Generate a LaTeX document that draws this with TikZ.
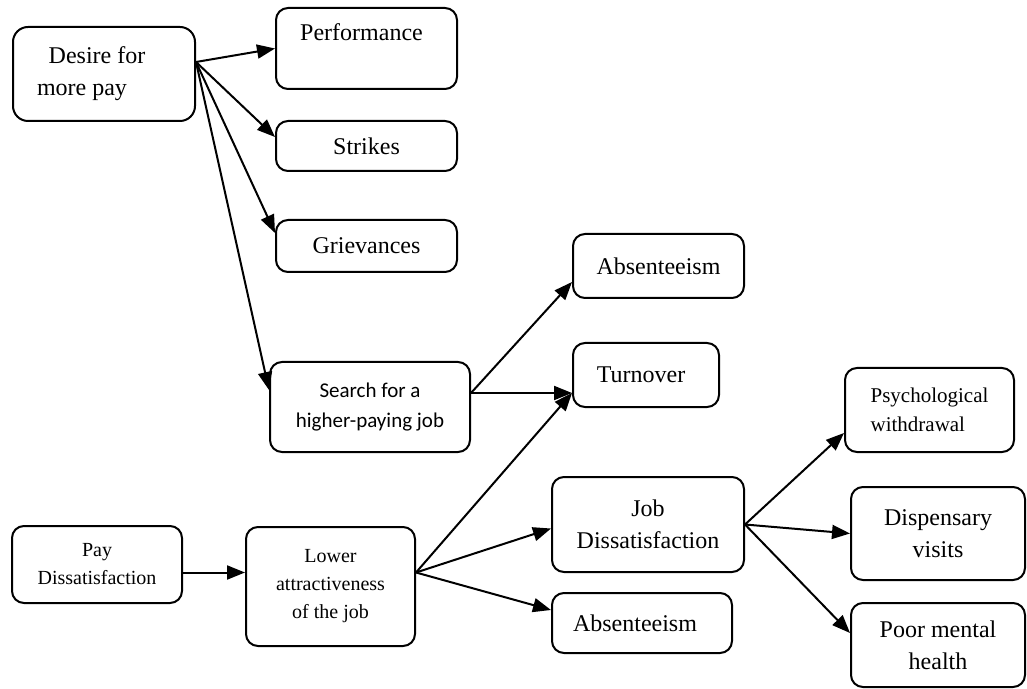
\documentclass[tikz,border=0pt]{standalone}
\usepackage{fontspec}
\setmainfont{Liberation Serif}
\newfontfamily\calibri{Carlito}
\usetikzlibrary{arrows.meta,positioning,calc}
\tikzset{box/.style={draw,line width=1pt,rounded corners=6pt,inner sep=0pt,align=center,font=\fontsize{12}{16}\selectfont},
  smallbox/.style={box,font=\fontsize{10}{14}\selectfont},
  flow/.style={-{Triangle[length=9pt,width=7pt]},line width=1pt}}

\begin{document}
\begin{tikzpicture}[x=0.5pt,y=-0.5pt]
\useasboundingbox (0,0) rectangle (1027,689);
% upper branch
\node[box,minimum width=91pt,minimum height=47pt,rounded corners=7.5pt] (desire) at (104,74) {Desire for\hspace*{7pt}\\more pay\hspace*{22pt}};
\node[box,minimum width=90.5pt,minimum height=40.5pt] (perf) at (366.5,48.5) {Performance\hspace*{5pt}\\~};
\node[box,minimum width=90.5pt,minimum height=25pt] (strikes) at (366.5,146) {Strikes};
\node[box,minimum width=90.5pt,minimum height=26pt] (griev) at (366.5,246) {Grievances};
\node[box,minimum width=100pt,minimum height=45pt,font=\calibri\fontsize{10.5}{15}\selectfont] (search) at (370,407) {Search for a\\higher-paying job};
\node[box,minimum width=85.5pt,minimum height=32pt] (absA) at (658.5,266) {Absenteeism};
\node[box,minimum width=73pt,minimum height=32pt] (turn) at (646,375) {Turnover\hspace*{5pt}};
% lower branch
\node[smallbox,minimum width=85pt,minimum height=38.5pt] (pay) at (97,564.5) {Pay\\Dissatisfaction};
\node[smallbox,minimum width=84.5pt,minimum height=59.5pt] (lower) at (330.5,586.5) {Lower\\attractiveness\\of the job};
\node[box,minimum width=96pt,minimum height=47.5pt] (job) at (648,524.5) {Job\\Dissatisfaction};
\node[box,minimum width=90pt,minimum height=30pt] (absB) at (642,623) {Absenteeism\hspace*{7pt}};
\node[box,minimum width=84.5pt,minimum height=42pt,align=left,font=\fontsize{10.5}{14.5}\selectfont] (psych) at (929.5,410) {Psychological\\withdrawal};
\node[box,minimum width=87pt,minimum height=46.5pt] (disp) at (938,533.5) {Dispensary\\visits};
\node[box,minimum width=87pt,minimum height=42pt] (poor) at (938,645) {Poor mental\\health};

\draw[flow] ([yshift=6pt]desire.east) -- (perf.west);
\draw[flow] ([yshift=6pt]desire.east) -- ([yshift=4.5pt]strikes.west);
\draw[flow] ([yshift=6pt]desire.east) -- ([yshift=6.5pt]griev.west);
\draw[flow] ([yshift=6pt]desire.east) -- ([yshift=8.5pt]search.west);
\draw[flow] ([yshift=7pt]search.east) -- ([yshift=-8pt]absA.west);
\draw[flow] ([yshift=7pt]search.east) -- ([yshift=-9pt]turn.west);
\draw[flow] ([yshift=-4pt]pay.east) -- ([yshift=7pt]lower.west);
\draw[flow] ([yshift=7pt]lower.east) -- ([yshift=-9pt]turn.west);
\draw[flow] ([yshift=7pt]lower.east) -- ([yshift=-2pt]job.west);
\draw[flow] ([yshift=7pt]lower.east) -- ([yshift=6.5pt]absB.west);
\draw[flow] (job.east) -- ([yshift=-11.5pt]psych.west);
\draw[flow] (job.east) -- (disp.west);
\draw[flow] (job.east) -- ([yshift=6pt]poor.west);
\end{tikzpicture}
\end{document}
